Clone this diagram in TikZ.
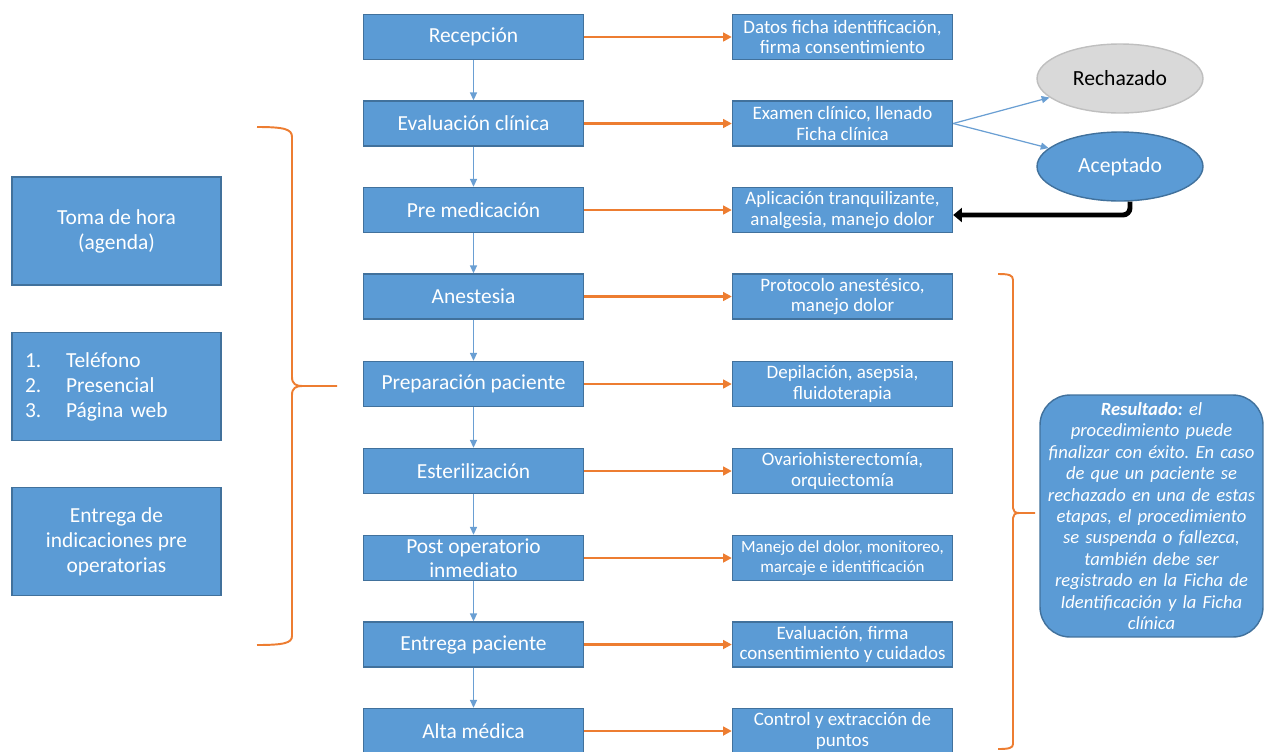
\documentclass[tikz,border=0pt]{standalone}
\usepackage{fontspec}
\setmainfont{Carlito}
\usetikzlibrary{arrows.meta,shapes.geometric}
\definecolor{boxblue}{HTML}{5B9BD5}
\definecolor{boxline}{HTML}{41719C}
\definecolor{flowblue}{HTML}{6A9FD3}
\definecolor{linkorange}{HTML}{ED7D31}
\definecolor{ovalgrey}{HTML}{D9D9D9}
\definecolor{ovalline}{HTML}{BFBFBF}
\frenchspacing

\begin{document}
\begin{tikzpicture}[x=0.02cm, y=-0.02cm,
  stage/.style={draw=boxline, fill=boxblue, line width=0.8pt, minimum width=4.4cm,
    minimum height=0.9cm, inner sep=0pt, text=white, align=center,
    font=\fontsize{12.2}{13.6}\selectfont},
  detail/.style={stage, font=\fontsize{10.8}{11.6}\selectfont},
  sidebox/.style={stage, minimum width=4.18cm, minimum height=2.16cm,
    font=\fontsize{12.2}{14.2}\selectfont},
  oval/.style={ellipse, draw=boxline, fill=boxblue, line width=0.8pt, minimum width=3.32cm,
    minimum height=1.38cm, inner sep=0pt, text=white, font=\fontsize{12.3}{14}\selectfont},
  down/.style={draw=flowblue, line width=0.7pt, -{Triangle[length=4.5pt,width=4pt]}},
  side/.style={draw=linkorange, line width=1.4pt, -{Triangle[length=5pt,width=5pt]}},
  brace/.style={draw=linkorange, line width=1.1pt}]
\useasboundingbox (0,0) rectangle (1264,751);

% Main stages of the procedure
\node[stage] (recep) at (473.5,37) {Recepción};
\node[stage] (evalc) at (473.5,123.5) {Evaluación clínica};
\node[stage] (premed) at (473.5,210) {Pre medicación};
\node[stage] (anest) at (473.5,296.5) {Anestesia};
\node[stage] (prepac) at (473.5,384) {Preparación paciente};
\node[stage] (ester) at (473.5,471) {Esterilización};
\node[stage] (postop) at (473.5,558) {Post operatorio\\inmediato};
\node[stage] (entrega) at (473.5,644.5) {Entrega paciente};
\node[stage] (alta) at (473.5,731) {Alta médica};

% What is done in each stage
\node[detail] (datos) at (842.5,37) {Datos ficha identificación,\\firma consentimiento};
\node[detail] (examen) at (842.5,123.5) {Examen clínico, llenado\\Ficha clínica};
\node[detail] (aplic) at (842.5,210) {Aplicación tranquilizante,\\analgesia, manejo dolor};
\node[detail] (protoc) at (842.5,296.5) {Protocolo anestésico,\\manejo dolor};
\node[detail] (depil) at (842.5,384) {Depilación, asepsia,\\fluidoterapia};
\node[detail] (ovario) at (842.5,471) {Ovariohisterectomía,\\orquiectomía};
\node[detail, font=\fontsize{9.7}{11.6}\selectfont] (manejo) at (842.5,558) {Manejo del dolor, monitoreo,\\marcaje e identificación};
\node[detail] (evalfirma) at (842.5,644.5) {Evaluación, firma\\consentimiento y cuidados};
\node[detail] (control) at (842.5,731) {Control y extracción de\\puntos};

% Before the day of surgery
\node[sidebox] (toma) at (116.5,231) {Toma de hora\\(agenda)};
\node[sidebox, align=left, text width=3.66cm, inner xsep=0.26cm] (medios) at (116.5,386.5)
  {\makebox[0.82cm][l]{1.}Teléfono\\\makebox[0.82cm][l]{2.}Presencial\\\makebox[0.82cm][l]{3.}Página web};
\node[sidebox] (indic) at (116.5,541.5) {Entrega de\\indicaciones pre\\operatorias};

% Result of the clinical evaluation
\node[oval, fill=ovalgrey, draw=ovalline, text=black] (rech) at (1120,78.5) {Rechazado};
\node[oval] (acep) at (1120,166.5) {Aceptado};

\node[draw=boxline, fill=boxblue, line width=0.8pt, rounded corners=0.6cm, minimum width=4.46cm,
  minimum height=4.84cm, inner sep=0pt, text width=4.4cm, align=center, text=white,
  font=\fontsize{10.6}{12.2}\selectfont\itshape] (result) at (1151.5,516)
  {\textbf{Resultado:} el\\procedimiento puede\\finalizar con éxito. En caso\\de que un paciente se\\rechazado en una de estas\\etapas, el procedimiento\\se suspenda o fallezca,\\también debe ser\\registrado en la Ficha de\\Identificación y la Ficha\\clínica};

% Flow between stages
\draw[down] (recep) -- (evalc);
\draw[down] (evalc) -- (premed);
\draw[down] (premed) -- (anest);
\draw[down] (anest) -- (prepac);
\draw[down] (prepac) -- (ester);
\draw[down] (ester) -- (postop);
\draw[down] (postop) -- (entrega);
\draw[down] (entrega) -- (alta);

\draw[side] (recep) -- (datos);
\draw[side] (evalc) -- (examen);
\draw[side] (premed) -- (aplic);
\draw[side] (anest) -- (protoc);
\draw[side] (prepac) -- (depil);
\draw[side] (ester) -- (ovario);
\draw[side] (postop) -- (manejo);
\draw[side] (entrega) -- (evalfirma);
\draw[side] (alta) -- (control);

\draw[down] (examen.east) -- (rech);
\draw[down] (examen.east) -- (acep);
\draw[line width=2.8pt, rounded corners=4pt, -{Triangle[length=5pt,width=8pt]}]
  ([xshift=0.2cm]acep.south) |- ([yshift=-0.1cm]aplic.east);

% Braces
\draw[brace] (257,127) .. controls (284,127) and (292,129) .. (292,137) -- (292,377)
  .. controls (292,384) and (296,386) .. (302,386) -- (337,386);
\draw[brace] (302,386) .. controls (296,386) and (292,388) .. (292,395) -- (292,636)
  .. controls (292,643) and (284,645) .. (257,645);
\draw[brace] (998,274) .. controls (1009,274) and (1013,275) .. (1013,280) -- (1013,508)
  .. controls (1013,511) and (1015,513) .. (1019,513) -- (1035,513);
\draw[brace] (1019,513) .. controls (1015,513) and (1013,515) .. (1013,518) -- (1013,744)
  .. controls (1013,748) and (1009,749) .. (998,749);
\end{tikzpicture}
\end{document}
